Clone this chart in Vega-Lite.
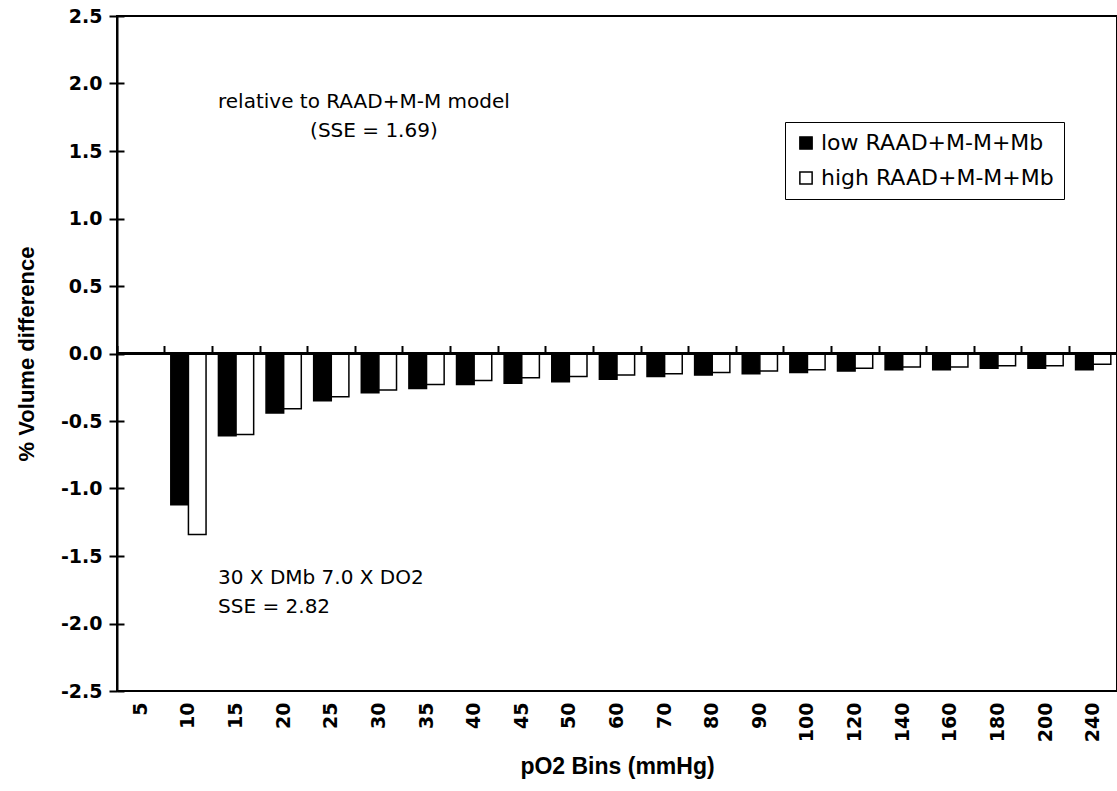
{
  "$schema": "https://vega.github.io/schema/vega-lite/v6.json",
  "width": 1000,
  "height": 675,
  "autosize": "none",
  "padding": {"left": 117, "top": 16, "right": 0, "bottom": 100},
  "background": "white",
  "config": {
    "view": {"stroke": "black", "strokeWidth": 2},
    "font": "Liberation Sans",
    "axis": {"labelColor": "black", "titleColor": "black", "domainColor": "black", "tickColor": "black", "grid": false}
  },
  "datasets": {
    "bars": [
      {"pO2": "10", "series": "low RAAD+M-M+Mb", "value": -1.12},
      {"pO2": "10", "series": "high RAAD+M-M+Mb", "value": -1.34},
      {"pO2": "15", "series": "low RAAD+M-M+Mb", "value": -0.61},
      {"pO2": "15", "series": "high RAAD+M-M+Mb", "value": -0.60},
      {"pO2": "20", "series": "low RAAD+M-M+Mb", "value": -0.44},
      {"pO2": "20", "series": "high RAAD+M-M+Mb", "value": -0.41},
      {"pO2": "25", "series": "low RAAD+M-M+Mb", "value": -0.35},
      {"pO2": "25", "series": "high RAAD+M-M+Mb", "value": -0.32},
      {"pO2": "30", "series": "low RAAD+M-M+Mb", "value": -0.29},
      {"pO2": "30", "series": "high RAAD+M-M+Mb", "value": -0.27},
      {"pO2": "35", "series": "low RAAD+M-M+Mb", "value": -0.26},
      {"pO2": "35", "series": "high RAAD+M-M+Mb", "value": -0.23},
      {"pO2": "40", "series": "low RAAD+M-M+Mb", "value": -0.23},
      {"pO2": "40", "series": "high RAAD+M-M+Mb", "value": -0.20},
      {"pO2": "45", "series": "low RAAD+M-M+Mb", "value": -0.22},
      {"pO2": "45", "series": "high RAAD+M-M+Mb", "value": -0.18},
      {"pO2": "50", "series": "low RAAD+M-M+Mb", "value": -0.21},
      {"pO2": "50", "series": "high RAAD+M-M+Mb", "value": -0.17},
      {"pO2": "60", "series": "low RAAD+M-M+Mb", "value": -0.19},
      {"pO2": "60", "series": "high RAAD+M-M+Mb", "value": -0.16},
      {"pO2": "70", "series": "low RAAD+M-M+Mb", "value": -0.17},
      {"pO2": "70", "series": "high RAAD+M-M+Mb", "value": -0.15},
      {"pO2": "80", "series": "low RAAD+M-M+Mb", "value": -0.16},
      {"pO2": "80", "series": "high RAAD+M-M+Mb", "value": -0.14},
      {"pO2": "90", "series": "low RAAD+M-M+Mb", "value": -0.15},
      {"pO2": "90", "series": "high RAAD+M-M+Mb", "value": -0.13},
      {"pO2": "100", "series": "low RAAD+M-M+Mb", "value": -0.14},
      {"pO2": "100", "series": "high RAAD+M-M+Mb", "value": -0.12},
      {"pO2": "120", "series": "low RAAD+M-M+Mb", "value": -0.13},
      {"pO2": "120", "series": "high RAAD+M-M+Mb", "value": -0.11},
      {"pO2": "140", "series": "low RAAD+M-M+Mb", "value": -0.12},
      {"pO2": "140", "series": "high RAAD+M-M+Mb", "value": -0.10},
      {"pO2": "160", "series": "low RAAD+M-M+Mb", "value": -0.12},
      {"pO2": "160", "series": "high RAAD+M-M+Mb", "value": -0.10},
      {"pO2": "180", "series": "low RAAD+M-M+Mb", "value": -0.11},
      {"pO2": "180", "series": "high RAAD+M-M+Mb", "value": -0.09},
      {"pO2": "200", "series": "low RAAD+M-M+Mb", "value": -0.11},
      {"pO2": "200", "series": "high RAAD+M-M+Mb", "value": -0.09},
      {"pO2": "240", "series": "low RAAD+M-M+Mb", "value": -0.12},
      {"pO2": "240", "series": "high RAAD+M-M+Mb", "value": -0.08}
    ],
    "zeroLine": [{"level": 0}],
    "notesTop1": [{"pO2": "30", "y": 1.86, "label": "relative to RAAD+M-M model"}],
    "notesTop2": [{"pO2": "30", "y": 1.645, "label": "(SSE = 1.69)"}],
    "notesBottom": [
      {"pO2": "15", "y": -1.66, "label": "30 X DMb  7.0 X DO2"},
      {"pO2": "15", "y": -1.875, "label": "SSE = 2.82"}
    ]
  },
  "resolve": {"axis": {"x": "independent", "y": "independent"}},
  "layer": [
    {
      "data": {"name": "bars"},
      "mark": {"type": "bar", "stroke": "black", "strokeWidth": 1.5},
      "encoding": {
        "x": {
          "field": "pO2", "type": "nominal",
          "scale": {"domain": ["5","10","15","20","25","30","35","40","45","50","60","70","80","90","100","120","140","160","180","200","240"], "paddingInner": 0.26, "paddingOuter": 0.13},
          "axis": {"orient": "bottom", "title": "pO2 Bins (mmHg)", "labelAngle": 270, "labelFont": "DejaVu Sans", "labelFontSize": 19, "labelFontWeight": "bold", "labelPadding": 11, "ticks": false, "domain": false, "titleFont": "Liberation Sans", "titleFontSize": 23, "titleFontWeight": "bold", "titlePadding": 14}
        },
        "xOffset": {"field": "series", "type": "nominal", "scale": {"domain": ["low RAAD+M-M+Mb", "high RAAD+M-M+Mb"]}},
        "y": {
          "field": "value", "type": "quantitative",
          "scale": {"domain": [-2.5, 2.5], "nice": false, "zero": false},
          "axis": {"title": "% Volume difference", "values": [-2.5,-2,-1.5,-1,-0.5,0,0.5,1,1.5,2,2.5], "labelExpr": "replace(format(datum.value, '.1f'), '\u2212', '-')", "labelFont": "DejaVu Sans", "labelFontSize": 19, "labelFontWeight": "bold", "labelPadding": 7, "tickSize": 8, "tickWidth": 2, "domainWidth": 2, "titleFont": "Liberation Sans", "titleFontSize": 22, "titleFontWeight": "bold", "titlePadding": 22}
        },
        "fill": {
          "field": "series", "type": "nominal",
          "scale": {"domain": ["low RAAD+M-M+Mb", "high RAAD+M-M+Mb"], "range": ["black", "white"]},
          "legend": {"title": null, "orient": "none", "legendX": 668, "legendY": 106, "strokeColor": "black", "padding": 10, "symbolType": "square", "symbolSize": 150, "symbolStrokeColor": "black", "symbolStrokeWidth": 1.5, "labelFontSize": 22, "labelColor": "black", "labelFont": "DejaVu Sans", "labelLimit": 400, "labelOffset": 4, "rowPadding": 13, "symbolOffset": 0}
        }
      }
    },
    {
      "data": {"name": "zeroLine"},
      "mark": {"type": "rule", "stroke": "black", "strokeWidth": 3},
      "encoding": {"y": {"field": "level", "type": "quantitative", "axis": {"orient": "left", "values": [-2.5,-2,-1.5,-1,-0.5,0,0.5,1,1.5,2,2.5], "labels": false, "domain": false, "title": null, "tickSize": -7, "tickWidth": 2}}}
    },
    {
      "data": {"name": "notesTop1"},
      "mark": {"type": "text", "fontSize": 20, "font": "DejaVu Sans", "align": "center", "baseline": "middle", "dx": -15, "color": "black"},
      "encoding": {
        "x": {"field": "pO2", "type": "nominal", "scale": {"domain": ["5","10","15","20","25","30","35","40","45","50","60","70","80","90","100","120","140","160","180","200","240"], "paddingInner": 0.26, "paddingOuter": 0.13}, "axis": {"orient": "bottom", "offset": -337.5, "labels": false, "title": null, "domain": false, "ticks": true, "tickSize": -8, "tickWidth": 2, "bandPosition": -0.17}},
        "y": {"field": "y", "type": "quantitative", "axis": null},
        "text": {"field": "label"}
      }
    },
    {
      "data": {"name": "notesTop2"},
      "mark": {"type": "text", "fontSize": 20, "font": "DejaVu Sans", "align": "center", "baseline": "middle", "dx": -5, "color": "black"},
      "encoding": {
        "x": {"field": "pO2", "type": "nominal", "axis": null},
        "y": {"field": "y", "type": "quantitative", "axis": null},
        "text": {"field": "label"}
      }
    },
    {
      "data": {"name": "notesBottom"},
      "mark": {"type": "text", "fontSize": 20, "font": "DejaVu Sans", "align": "left", "baseline": "middle", "dx": -18, "color": "black"},
      "encoding": {
        "x": {"field": "pO2", "type": "nominal", "axis": null},
        "y": {"field": "y", "type": "quantitative", "axis": null},
        "text": {"field": "label"}
      }
    }
  ]
}
